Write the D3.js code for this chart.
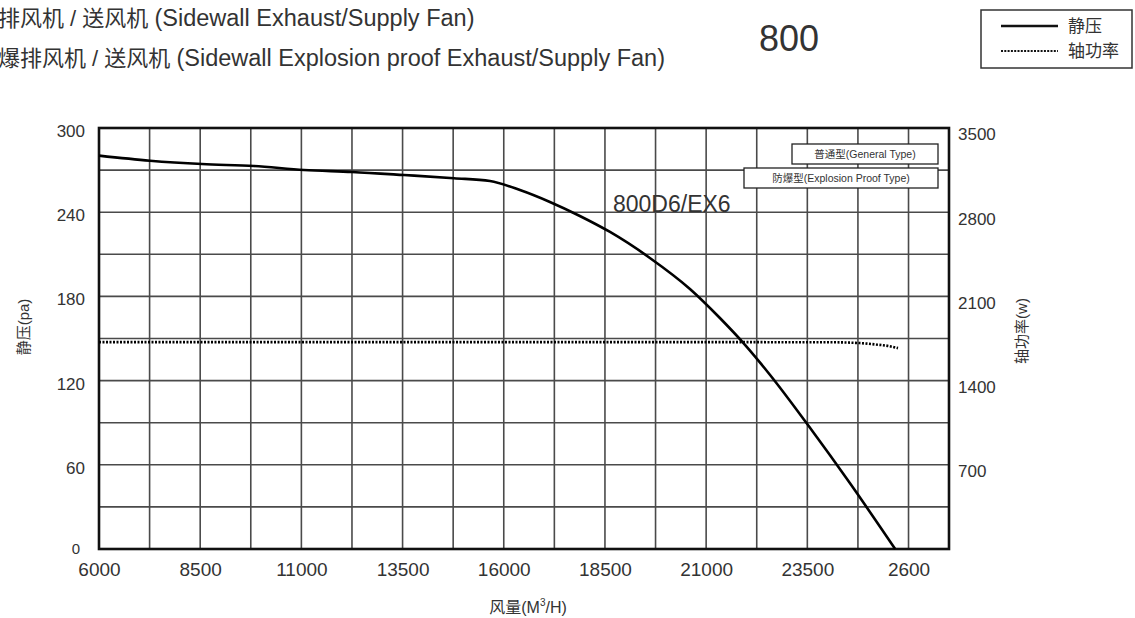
<!DOCTYPE html>
<html><head><meta charset="utf-8">
<script src="https://cdn.jsdelivr.net/npm/d3@7"></script>
<style>body{margin:0;background:#fff}svg{display:block}text{font-family:"Liberation Sans","Noto Sans CJK SC",sans-serif;fill:#333}</style>
</head><body><svg id="c" width="1135" height="618"></svg>
<script>
// ---- data ----
const airflow = [6000, 7260, 8545, 9830, 11065, 12250, 13535, 14770, 15660, 16400, 17140, 17880, 18625, 19610, 20600, 21340, 21960, 22580, 23570, 24550, 25670];
const staticPressure = [280.3, 276.7, 274.3, 272.9, 270.1, 268.7, 266.5, 264.2, 262.2, 255.8, 247.3, 237.3, 225.9, 207.4, 185.3, 164.6, 145.5, 124, 86.2, 47, 0];
const powerAirflow = [6000, 12000, 18000, 24000, 24800, 25200, 25500, 25740];
const shaftPower = [1720, 1720, 1720, 1719, 1712, 1700, 1688, 1670];
const xTickValues = [6000, 8500, 11000, 13500, 16000, 18500, 21000, 23500, 26000];
const xTickLabels = ["6000", "8500", "11000", "13500", "16000", "18500", "21000", "23500", "2600"];
const yTickValues = [0, 60, 120, 180, 240, 300];
const y2TickValues = [700, 1400, 2100, 2800, 3500];
const titleCn = ["排风机 / 送风机 ", "爆排风机 / 送风机 "];
const titleEn = ["(Sidewall Exhaust/Supply Fan)", "(Sidewall Explosion proof Exhaust/Supply Fan)"];
const modelSize = "800";
const modelName = "800D6/EX6";
const typeLabels = ["普通型(General Type)", "防爆型(Explosion Proof Type)"];
const legendLabels = ["静压", "轴功率"];

// ---- layout ----
const svg = d3.select("#c");
const L = 99, R = 949, T = 128, B = 549;
const x = d3.scaleLinear().domain([6000, 27000]).range([L, R]);
const y = d3.scaleLinear().domain([0, 300]).range([B, T]);
const y2 = d3.scaleLinear().domain([0, 3500]).range([B, T]);

// grid
const g = svg.append("g");
g.selectAll("line.v").data(d3.range(6000, 26001, 1250)).join("line")
  .attr("x1", d => x(d)).attr("x2", d => x(d)).attr("y1", T).attr("y2", B)
  .attr("stroke", "#4a4a4a").attr("stroke-width", 1.6);
g.selectAll("line.h").data(d3.range(0, 301, 30)).join("line")
  .attr("y1", d => y(d)).attr("y2", d => y(d)).attr("x1", L).attr("x2", R)
  .attr("stroke", "#4a4a4a").attr("stroke-width", 1.6);
g.append("rect").attr("x", L).attr("y", T).attr("width", R - L).attr("height", B - T)
  .attr("fill", "none").attr("stroke", "#111").attr("stroke-width", 2.6);

// type labels
const tl = [{t: typeLabels[0], x1: 792, x2: 938, y1: 144, y2: 164}, {t: typeLabels[1], x1: 744, x2: 938, y1: 168, y2: 188}];
tl.forEach(d => {
  svg.append("rect").attr("x", d.x1).attr("y", d.y1).attr("width", d.x2 - d.x1).attr("height", d.y2 - d.y1)
    .attr("fill", "#fff").attr("stroke", "#222").attr("stroke-width", 1.3);
  svg.append("text").attr("x", (d.x1 + d.x2) / 2).attr("y", (d.y1 + d.y2) / 2 + 4).attr("text-anchor", "middle")
    .attr("font-size", 10.5).text(d.t);
});

// curves
svg.append("path").datum(airflow.map((a, i) => [a, staticPressure[i]]))
  .attr("d", d3.line().x(d => x(d[0])).y(d => y(d[1])).curve(d3.curveMonotoneX))
  .attr("fill", "none").attr("stroke", "#000").attr("stroke-width", 2.6);
svg.append("path").datum(powerAirflow.map((a, i) => [a, shaftPower[i]]))
  .attr("d", d3.line().x(d => x(d[0])).y(d => y2(d[1])).curve(d3.curveMonotoneX))
  .attr("fill", "none").attr("stroke", "#000").attr("stroke-width", 2.6).attr("stroke-dasharray", "2,1.5");

// axes
const ax = svg.append("g").attr("transform", `translate(0,${B})`)
  .call(d3.axisBottom(x).tickValues(xTickValues).tickSize(0).tickPadding(14).tickFormat((d, i) => xTickLabels[i]));
ax.select(".domain").remove();
ax.selectAll("text").attr("font-size", 19).attr("fill", "#333");
const ay = svg.append("g").attr("transform", `translate(${L},0)`)
  .call(d3.axisLeft(y).tickValues(yTickValues).tickSize(0).tickPadding(14));
ay.select(".domain").remove();
ay.selectAll("text").attr("font-size", 17).attr("fill", "#333").attr("dy", "0.5em");
ay.selectAll("text").filter(d => d === 0).attr("font-size", 15).attr("dx", -5).attr("dy", "0.3em");
const ay2 = svg.append("g").attr("transform", `translate(${R},0)`)
  .call(d3.axisRight(y2).tickValues(y2TickValues).tickSize(0).tickPadding(9).tickFormat(d3.format("d")));
ay2.select(".domain").remove();
ay2.selectAll("text").attr("font-size", 17).attr("fill", "#333").attr("dy", "0.7em");

// axis titles
svg.append("text").attr("transform", "translate(29,327) rotate(-90)").attr("text-anchor", "middle")
  .attr("font-size", 15).text("静压(pa)");
svg.append("text").attr("transform", "translate(1027,331) rotate(-90)").attr("text-anchor", "middle")
  .attr("font-size", 15).text("轴功率(w)");
const xt = svg.append("text").attr("x", 528).attr("y", 613).attr("text-anchor", "middle").attr("font-size", 16);
xt.append("tspan").text("风量(M");
xt.append("tspan").attr("font-size", 10).attr("dy", -7).text("3");
xt.append("tspan").attr("dy", 7).text("/H)");

// titles
[0, 1].forEach(i => {
  const t = svg.append("text").attr("x", -2).attr("y", 26 + 40 * i);
  t.append("tspan").attr("font-size", 22).text(titleCn[i]);
  t.append("tspan").attr("font-size", 23.5).text(titleEn[i]);
});
svg.append("text").attr("x", 789).attr("y", 51).attr("text-anchor", "middle").attr("font-size", 36).text(modelSize);
svg.append("text").attr("x", 613).attr("y", 212).attr("font-size", 23).attr("fill", "#222").text(modelName);

// legend
svg.append("rect").attr("x", 981).attr("y", 10).attr("width", 151).attr("height", 58)
  .attr("fill", "#fff").attr("stroke", "#333").attr("stroke-width", 1.5);
svg.append("line").attr("x1", 1001).attr("x2", 1058).attr("y1", 26).attr("y2", 26).attr("stroke", "#111").attr("stroke-width", 2.5);
svg.append("line").attr("x1", 1001).attr("x2", 1058).attr("y1", 51).attr("y2", 51).attr("stroke", "#111").attr("stroke-width", 2.2).attr("stroke-dasharray", "2,1.3");
svg.append("text").attr("x", 1068).attr("y", 32).attr("font-size", 17).text(legendLabels[0]);
svg.append("text").attr("x", 1068).attr("y", 57).attr("font-size", 17).text(legendLabels[1]);
</script></body></html>
